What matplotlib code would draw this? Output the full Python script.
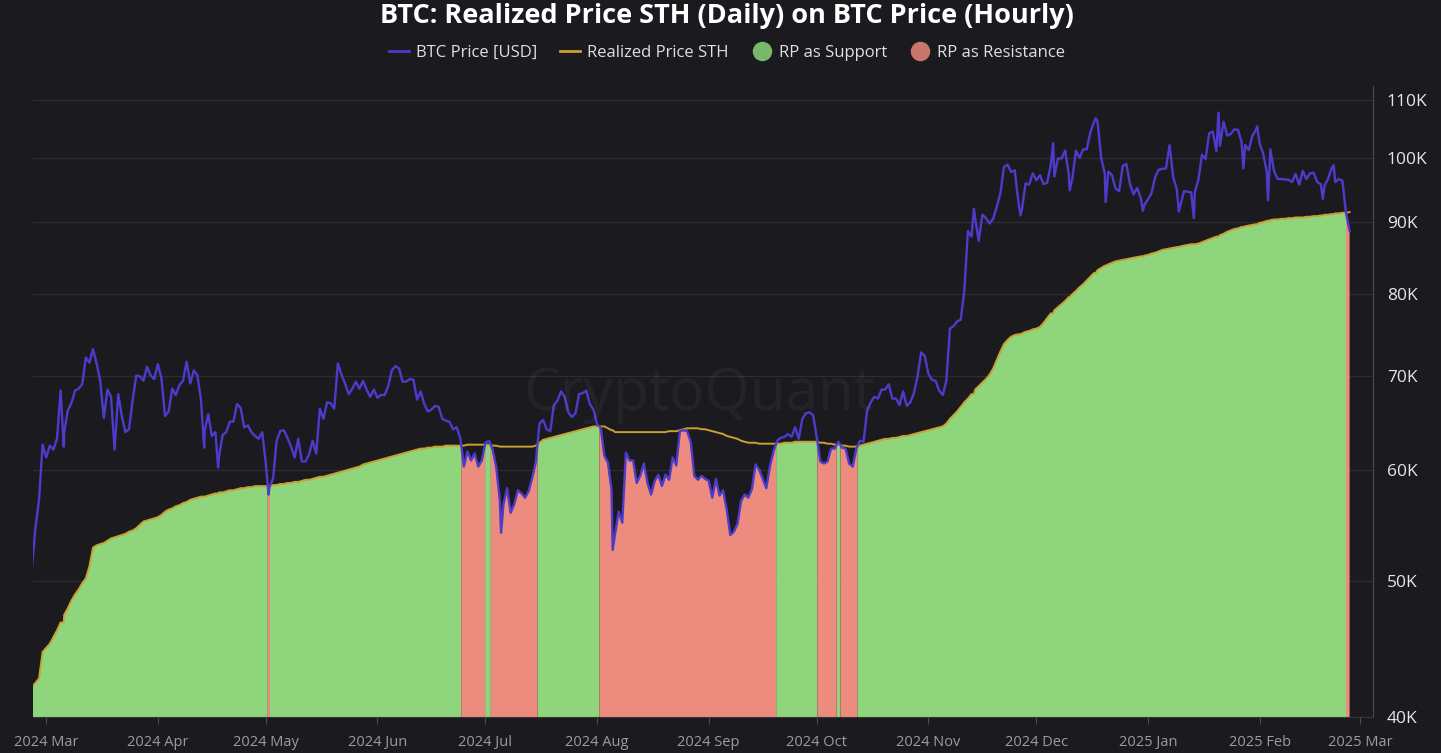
import numpy as np
import pandas as pd
import matplotlib
matplotlib.use("Agg")
import matplotlib.pyplot as plt
import matplotlib.dates as mdates
from matplotlib.lines import Line2D
from matplotlib.ticker import FixedLocator, FixedFormatter, NullLocator

plt.rcParams['font.family'] = ['Open Sans', 'DejaVu Sans']

BG = '#1b1b1f'
PURPLE = '#4d3bcc'
GOLD = '#c9a032'
GREEN = '#8fd57c'
RED = '#ee8b7f'

# BTC price [K USD]: open of 2024-02-26, then daily closes 2024-02-26 .. 2025-02-25
btc_first_open = 51.0
btc_close = [
    # Feb 26-29
    54.5, 57.1, 62.5, 61.2,
    # Mar
    62.4, 62.0, 63.1, 68.3, 63.8, 66.1, 66.9, 68.3, 68.5, 69.0, 72.1, 71.5, 73.1, 71.4, 69.4, 65.3,
    68.4, 67.6, 62.0, 67.9, 65.5, 63.8, 64.1, 67.2, 70.0, 69.9, 69.4, 71.0, 70.0, 69.6, 71.3,
    # Apr
    69.7, 65.5, 66.0, 68.5, 67.8, 68.9, 69.4, 71.6, 69.1, 70.6, 70.0, 67.2, 63.9, 65.7, 63.4,
    63.8, 61.3, 63.5, 63.8, 64.9, 64.9, 66.8, 66.4, 64.3, 64.5, 63.8, 63.4, 63.1, 63.8, 60.6,
    # May
    58.3, 59.1, 62.9, 63.9, 64.0, 63.2, 62.3, 61.2, 63.1, 60.8, 60.8, 61.5, 62.9, 61.6, 66.3, 65.2,
    67.0, 66.9, 66.3, 71.4, 70.1, 69.1, 67.9, 68.5, 69.3, 68.5, 69.4, 68.4, 67.6, 68.4, 67.5,
    # Jun
    67.8, 67.8, 68.8, 70.6, 71.1, 70.8, 69.3, 69.3, 69.6, 69.5, 67.3, 68.2, 66.8, 66.0, 66.2,
    66.6, 66.5, 65.2, 65.0, 64.9, 64.1, 64.3, 63.2, 60.3, 61.8, 60.9, 61.6, 60.3, 60.9, 62.7,
    # Jul
    62.9, 62.0, 60.2, 57.0, 56.7, 58.2, 55.9, 56.7, 58.0, 57.7, 57.3, 57.9, 59.2, 60.8, 64.7, 65.1,
    64.1, 63.9, 66.7, 67.2, 68.2, 67.6, 65.9, 65.4, 65.8, 67.9, 68.0, 68.3, 66.8, 66.2, 64.6,
    # Aug
    64.3, 61.4, 60.7, 58.1, 54.0, 56.0, 55.0, 61.7, 60.9, 60.9, 58.7, 59.4, 60.6, 58.7, 57.6, 58.9,
    59.5, 58.4, 59.5, 59.0, 61.2, 60.4, 63.9, 64.0, 63.9, 62.8, 59.4, 59.0, 59.4, 59.1, 58.9,
    # Sep
    57.3, 59.1, 57.5, 58.0, 56.2, 53.9, 54.2, 54.9, 57.0, 57.6, 57.3, 58.1, 60.5, 60.0, 59.1,
    58.2, 60.3, 61.8, 62.9, 63.2, 63.3, 63.6, 63.3, 64.3, 63.1, 65.2, 65.8, 65.9, 65.6, 63.3,
    # Oct
    60.8, 60.6, 60.8, 62.1, 62.1, 62.8, 62.2, 62.1, 60.6, 60.3, 62.1, 62.9, 62.8, 66.1, 67.0, 67.6,
    67.4, 68.4, 68.4, 69.0, 67.4, 67.4, 66.7, 68.2, 66.6, 67.0, 68.0, 69.9, 72.7, 72.3, 70.2,
    # Nov
    69.5, 69.4, 68.3, 67.8, 69.4, 75.6, 75.9, 76.5, 76.7, 80.5, 88.7, 87.9, 90.6, 87.3, 91.1,
    90.6, 89.8, 90.5, 92.3, 94.3, 98.5, 98.9, 97.7, 98.0, 93.1, 91.9, 95.9, 95.7, 97.5, 96.4,
    # Dec
    97.2, 95.8, 96.0, 98.8, 97.0, 99.9, 99.9, 101.2, 97.4, 96.7, 101.2, 100.0, 101.4, 101.4, 104.3,
    106.0, 106.1, 100.0, 97.5, 97.8, 97.2, 95.1, 94.7, 98.7, 99.0, 95.8, 94.2, 95.2, 93.6, 92.6, 93.4,
    # Jan
    94.4, 96.9, 98.1, 98.2, 98.3, 102.1, 96.9, 95.0, 92.5, 94.7, 94.6, 94.5, 94.5, 96.5, 100.5,
    99.8, 104.1, 104.4, 101.1, 102.0, 106.1, 103.7, 104.0, 104.8, 104.7, 102.6, 102.1, 101.3,
    103.7, 104.7, 102.4,
    # Feb 1-25
    100.7, 97.7, 101.4, 97.9, 96.6, 96.6, 96.5, 96.5, 96.1, 97.4, 95.7, 97.9, 96.6, 97.5, 97.6,
    96.1, 95.8, 95.5, 96.6, 98.3, 96.1, 96.6, 96.3, 91.4, 88.7,
]

# hourly extremes [K USD]
intraday_times = [
    "2024-03-05 21:00", "2024-04-13 21:00", "2024-04-17 18:00", "2024-05-01 18:00",
    "2024-07-05 08:00", "2024-08-05 08:00", "2024-11-13 16:00", "2024-11-26 14:00",
    "2024-12-05 16:00", "2024-12-10 06:00", "2024-12-17 12:00", "2024-12-20 06:00",
    "2024-12-30 14:00", "2025-01-09 14:00", "2025-01-13 18:00", "2025-01-20 14:00",
    "2025-01-27 12:00", "2025-01-31 08:00", "2025-02-03 08:00", "2025-02-18 14:00",
    "2025-02-21 14:00",
]
intraday_values = [
    62.3, 62.2, 60.2, 57.6,
    54.1, 52.6, 92.0, 91.0,
    102.4, 94.8, 106.7, 93.0,
    91.7, 91.6, 90.6, 107.7,
    98.3, 105.3, 93.3, 93.5,
    98.8,
]

# Realized Price STH, daily 2024-02-26 .. 2025-02-26 [K USD]
rp_sth = [
    42.0, 42.3, 42.6, 44.5,
    44.8, 45.1, 45.6, 46.1, 46.7, 47.3, 47.8, 48.4, 48.9, 49.3, 49.8, 50.2, 51.2, 52.8, 53.0, 53.1,
    53.2, 53.4, 53.6, 53.7, 53.8, 53.9, 54.0, 54.2, 54.3, 54.5, 54.8, 55.1, 55.2, 55.3, 55.4,
    55.5, 55.7, 56.0, 56.2, 56.3, 56.5, 56.6, 56.8, 56.9, 57.1, 57.2, 57.3, 57.4, 57.4, 57.5,
    57.6, 57.7, 57.8, 57.8, 57.9, 58.0, 58.0, 58.1, 58.2, 58.2, 58.3, 58.3, 58.4, 58.4, 58.4,
    58.4, 58.4, 58.5, 58.5, 58.6, 58.6, 58.7, 58.7, 58.8, 58.8, 58.9, 59.0, 59.0, 59.1, 59.2, 59.3,
    59.3, 59.4, 59.5, 59.6, 59.7, 59.8, 59.9, 60.0, 60.1, 60.2, 60.3, 60.5, 60.6, 60.7, 60.8,
    60.9, 61.0, 61.1, 61.2, 61.3, 61.4, 61.5, 61.6, 61.7, 61.8, 61.9, 62.0, 62.1, 62.1, 62.2,
    62.2, 62.3, 62.3, 62.3, 62.4, 62.4, 62.4, 62.4, 62.4, 62.4, 62.5, 62.5, 62.5, 62.5, 62.5,
    62.5, 62.5, 62.4, 62.4, 62.3, 62.3, 62.3, 62.3, 62.3, 62.3, 62.3, 62.3, 62.3, 62.3, 62.4, 62.7,
    63.0, 63.1, 63.2, 63.3, 63.4, 63.5, 63.6, 63.7, 63.8, 63.9, 64.0, 64.1, 64.2, 64.3, 64.4,
    64.4, 64.4, 64.4, 64.2, 64.0, 63.8, 63.8, 63.8, 63.8, 63.8, 63.8, 63.8, 63.8, 63.8, 63.8, 63.8,
    63.8, 63.8, 63.8, 63.8, 63.9, 63.9, 63.9, 64.0, 64.1, 64.2, 64.2, 64.2, 64.2, 64.1, 64.1,
    64.0, 63.9, 63.8, 63.7, 63.6, 63.4, 63.3, 63.2, 63.1, 62.9, 62.8, 62.7, 62.7, 62.7, 62.6,
    62.6, 62.6, 62.6, 62.6, 62.6, 62.6, 62.7, 62.7, 62.7, 62.8, 62.8, 62.8, 62.8, 62.8, 62.8,
    62.8, 62.7, 62.7, 62.6, 62.6, 62.5, 62.5, 62.4, 62.4, 62.3, 62.3, 62.3, 62.4, 62.5, 62.6, 62.7,
    62.8, 62.9, 63.0, 63.1, 63.1, 63.2, 63.2, 63.3, 63.4, 63.4, 63.5, 63.6, 63.7, 63.8, 63.9,
    64.0, 64.1, 64.2, 64.3, 64.4, 64.7, 65.2, 65.6, 66.0, 66.5, 67.0, 67.4, 67.9, 68.4, 68.8,
    69.2, 69.6, 70.1, 70.8, 71.8, 72.8, 73.7, 74.2, 74.6, 74.8, 74.9, 75.0, 75.2, 75.3, 75.5,
    75.6, 75.8, 76.3, 76.9, 77.5, 77.9, 78.3, 78.7, 79.1, 79.6, 80.0, 80.4, 80.9, 81.3, 81.8, 82.3,
    82.8, 83.2, 83.5, 83.8, 84.0, 84.2, 84.4, 84.5, 84.6, 84.7, 84.8, 84.9, 85.0, 85.1, 85.2,
    85.3, 85.5, 85.6, 85.8, 86.0, 86.1, 86.2, 86.3, 86.4, 86.5, 86.6, 86.7, 86.8, 86.8, 86.9, 87.1,
    87.3, 87.5, 87.7, 87.9, 88.1, 88.3, 88.6, 88.8, 89.0, 89.1, 89.3, 89.4, 89.5, 89.6, 89.7,
    89.9, 90.0, 90.2, 90.3, 90.4, 90.4, 90.5, 90.5, 90.6, 90.6, 90.7, 90.7, 90.7, 90.8, 90.8,
    90.9, 90.9, 91.0, 91.1, 91.1, 91.2, 91.3, 91.3, 91.4, 91.4, 91.5,
]

y_ticks = [40000, 50000, 60000, 70000, 80000, 90000, 100000, 110000]
y_labels = ['40K', '50K', '60K', '70K', '80K', '90K', '100K', '110K']

days = pd.date_range('2024-02-26', periods=len(rp_sth), freq='D')
price = pd.Series([btc_first_open] + btc_close, index=days)
extra = pd.Series(intraday_values, index=pd.to_datetime(intraday_times))
price = pd.concat([price, extra]).sort_index() * 1000
rp = pd.Series(rp_sth, index=days) * 1000
rp_h = rp.reindex(price.index, method='ffill')

x = mdates.date2num(price.index.to_pydatetime())
p = price.to_numpy()
r = rp_h.to_numpy()

# add the crossing points so green and red areas meet
d = p - r
xs, ps, rs = [x[0]], [p[0]], [r[0]]
for i in range(len(x) - 1):
    if d[i] * d[i + 1] < 0:
        f = d[i] / (d[i] - d[i + 1])
        v = p[i] + f * (p[i + 1] - p[i])
        xs.append(x[i] + f * (x[i + 1] - x[i]))
        ps.append(v)
        rs.append(v)
    xs.append(x[i + 1])
    ps.append(p[i + 1])
    rs.append(r[i + 1])
xs, ps, rs = np.array(xs), np.array(ps), np.array(rs)
top = np.minimum(ps, rs)

fig = plt.figure(figsize=(14.41, 7.53), dpi=100, facecolor=BG)
ax = fig.add_axes([33 / 1441, 1 - 717 / 753, (1373 - 33) / 1441, (717 - 86) / 753])
ax.set_facecolor(BG)

ax.fill_between(xs, 40000, top, where=ps >= rs, color=GREEN, lw=0)
ax.fill_between(xs, 40000, top, where=ps <= rs, color=RED, lw=0)
ax.plot(xs, rs, color=GOLD, lw=1.4)
ax.plot(xs, ps, color=PURPLE, lw=1.7)

ax.set_yscale('log')
ax.set_ylim(40000, 112500)
ax.yaxis.set_major_locator(FixedLocator(y_ticks))
ax.yaxis.set_major_formatter(FixedFormatter(y_labels))
ax.yaxis.set_minor_locator(NullLocator())
ax.yaxis.tick_right()
ax.tick_params(axis='y', length=0, pad=10, labelsize=12.5, labelcolor='#e6e6e6')
ax.grid(axis='y', color='#2c2c31', lw=0.9)
ax.set_axisbelow(True)

ax.set_xlim(mdates.date2num(pd.Timestamp('2024-02-26 08:00').to_pydatetime()),
            mdates.date2num(pd.Timestamp('2025-03-04 12:00').to_pydatetime()))
ax.xaxis.set_major_locator(mdates.MonthLocator())
ax.xaxis.set_major_formatter(mdates.DateFormatter('%Y %b'))
ax.tick_params(axis='x', length=5, color='#4a4a50', pad=8, labelsize=10.5, labelcolor='#9c9c9c')

for s in ['top', 'left']:
    ax.spines[s].set_visible(False)
ax.spines['right'].set_color('#4a4a50')
ax.spines['bottom'].set_color('#35353a')

fig.text(0.485, 1 - 395 / 753, 'CryptoQuant', color='#ffffff', alpha=0.045,
         fontsize=42, ha='center', va='center')

fig.text(727 / 1441, 1 - 16 / 753, 'BTC: Realized Price STH (Daily) on BTC Price (Hourly)',
         color='white', fontsize=19.5, fontweight='bold', ha='center', va='center')

handles = [
    Line2D([], [], color=PURPLE, lw=2),
    Line2D([], [], color=GOLD, lw=2),
    Line2D([], [], ls='', marker='o', markersize=13, markerfacecolor='#79b86a', markeredgecolor='#79b86a'),
    Line2D([], [], ls='', marker='o', markersize=13, markerfacecolor='#c9766c', markeredgecolor='#c9766c'),
]
labels = ['BTC Price [USD]', 'Realized Price STH', 'RP as Support', 'RP as Resistance']
fig.legend(handles, labels, loc='center', bbox_to_anchor=(727 / 1441, 1 - 53 / 753), ncol=4,
           frameon=False, fontsize=12, labelcolor='#e0e0e0', handlelength=1.2,
           handletextpad=0.4, columnspacing=1.4)

fig.savefig('out.png', dpi=100, facecolor=BG)
